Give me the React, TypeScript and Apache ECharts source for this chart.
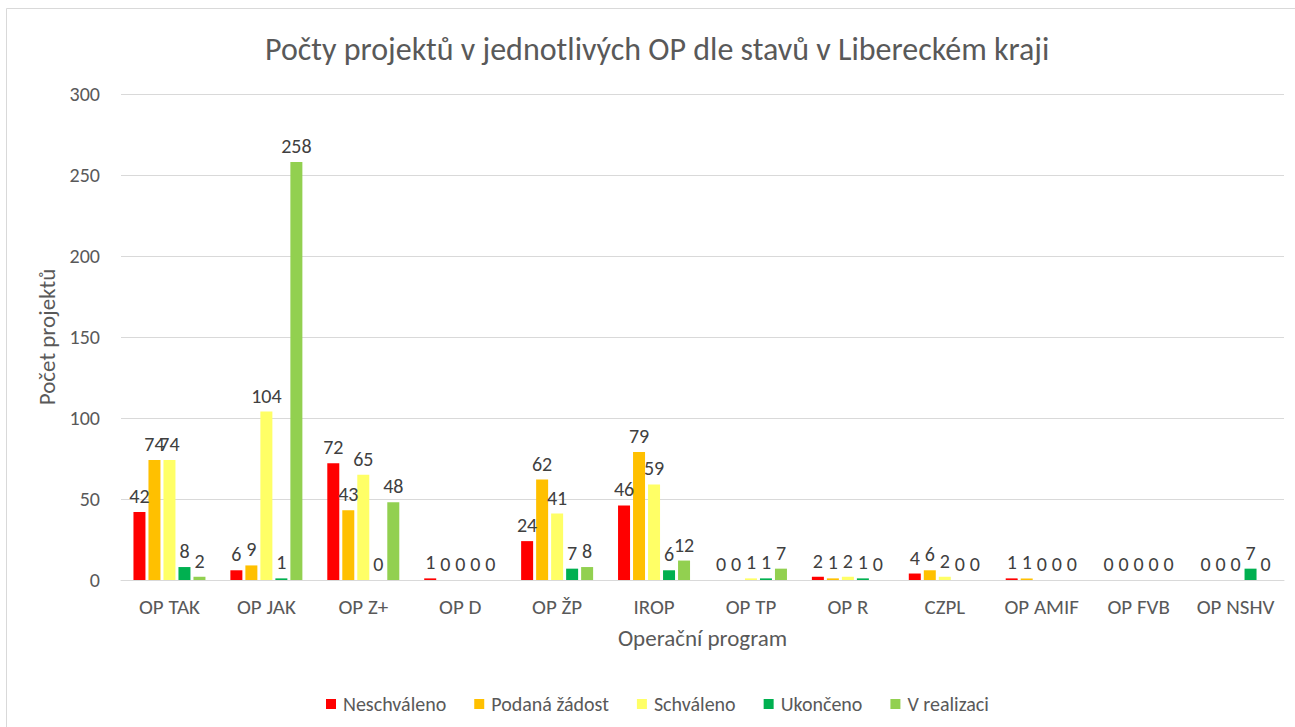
import React, { useEffect, useRef } from "react";
import * as echarts from "echarts";

const categories = ["OP TAK", "OP JAK", "OP Z+", "OP D", "OP ŽP", "IROP", "OP TP", "OP R", "CZPL", "OP AMIF", "OP FVB", "OP NSHV"];
const neschvaleno = [42, 6, 72, 1, 24, 46, 0, 2, 4, 1, 0, 0];
const podanaZadost = [74, 9, 43, 0, 62, 79, 0, 1, 6, 1, 0, 0];
const schvaleno = [74, 104, 65, 0, 41, 59, 1, 2, 2, 0, 0, 0];
const ukonceno = [8, 1, 0, 0, 7, 6, 1, 1, 0, 0, 0, 7];
const vRealizaci = [2, 258, 48, 0, 8, 12, 7, 0, 0, 0, 0, 0];
const seriesNames = ["Neschváleno", "Podaná žádost", "Schváleno", "Ukončeno", "V realizaci"];
const seriesColors = ["#FF0000", "#FFC000", "#FFFF66", "#00B050", "#92D050"];
const yTicks = { min: 0, max: 300, interval: 50 };

const FONT = "Carlito, 'Open Sans', sans-serif";

export default function App() {
  const ref = useRef<HTMLDivElement>(null);
  useEffect(() => {
    document.body.style.margin = "0";
    if (!ref.current) return;
    const chart = echarts.init(ref.current, null, { renderer: "svg" });
    const data = [neschvaleno, podanaZadost, schvaleno, ukonceno, vRealizaci];
    chart.setOption({
      animation: false,
      textStyle: { fontFamily: FONT },
      title: {
        text: "Počty projektů v jednotlivých OP dle stavů v Libereckém kraji",
        left: 260,
        top: 28,
        textStyle: { fontFamily: FONT, fontSize: 32, fontWeight: "normal", color: "#595959" },
      },
      graphic: [
        {
          type: "rect",
          shape: { x: 6.5, y: 8.5, width: 1300, height: 730 },
          style: { fill: "none", stroke: "#d9d9d9", lineWidth: 1 },
          silent: true,
        },
      ],
      grid: { left: 121, right: 11, top: 94, bottom: 147 },
      legend: {
        top: 689,
        left: 321,
        itemWidth: 10,
        itemHeight: 10,
        itemGap: 28,
        icon: "rect",
        textStyle: { fontFamily: FONT, fontSize: 20, color: "#595959", padding: [0, 0, 0, 2] },
        data: seriesNames,
      },
      xAxis: {
        type: "category",
        data: categories,
        name: "Operační program",
        nameLocation: "middle",
        nameGap: 46,
        nameTextStyle: { fontFamily: FONT, fontSize: 23, color: "#595959" },
        axisLine: { lineStyle: { color: "#d9d9d9", width: 1 } },
        axisTick: { show: false },
        axisLabel: { fontFamily: FONT, fontSize: 21, color: "#595959", margin: 16, interval: 0 },
      },
      yAxis: {
        type: "value",
        min: yTicks.min,
        max: yTicks.max,
        interval: yTicks.interval,
        name: "Počet projektů",
        nameLocation: "middle",
        nameGap: 58,
        nameTextStyle: { fontFamily: FONT, fontSize: 23, color: "#595959" },
        axisLine: { show: false },
        axisTick: { show: false },
        axisLabel: { fontFamily: FONT, fontSize: 20, color: "#595959", margin: 21 },
        splitLine: { lineStyle: { color: "#d9d9d9", width: 1 } },
      },
      series: seriesNames.map((name, i) => ({
        name,
        type: "bar",
        data: data[i],
        barWidth: 12,
        barGap: "25%",
        itemStyle: { color: seriesColors[i] },
        label: {
          show: true,
          position: "top",
          distance: 6,
          fontFamily: FONT,
          fontSize: 20,
          color: "#404040",
        },
      })),
    });
    return () => chart.dispose();
  }, []);
  return <div ref={ref} style={{ width: 1295, height: 727 }} />;
}
